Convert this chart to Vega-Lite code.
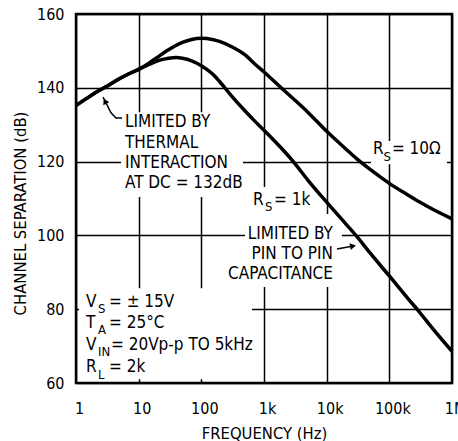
{
  "$schema": "https://vega.github.io/schema/vega-lite/v6.json",
  "width": 376,
  "height": 369,
  "autosize": {"type": "none"},
  "padding": {"left": 76, "top": 14, "right": 6, "bottom": 58},
  "background": "white",
  "config": {
    "font": "DejaVu Sans Condensed, DejaVu Sans, sans-serif",
    "view": {"stroke": "black", "strokeWidth": 2.5},
    "axis": {
      "domain": false,
      "ticks": false,
      "tickSize": 0,
      "grid": true,
      "gridColor": "black",
      "gridWidth": 1.5,
      "gridOpacity": 1,
      "labelColor": "black",
      "labelFontSize": 16,
      "labelFont": "DejaVu Sans Condensed, DejaVu Sans, sans-serif",
      "titleFont": "DejaVu Sans Condensed, DejaVu Sans, sans-serif",
      "titleFontSize": 16.5,
      "titleFontWeight": "normal",
      "titleColor": "black"
    }
  },
  "datasets": {
    "curves": [
      {"series": "Rs=10", "f": 1, "db": 135.2},
      {"series": "Rs=10", "f": 1.5, "db": 137.2},
      {"series": "Rs=10", "f": 2, "db": 138.6},
      {"series": "Rs=10", "f": 3, "db": 140.3},
      {"series": "Rs=10", "f": 5, "db": 142.5},
      {"series": "Rs=10", "f": 7, "db": 143.8},
      {"series": "Rs=10", "f": 10, "db": 145.0},
      {"series": "Rs=10", "f": 15, "db": 146.8},
      {"series": "Rs=10", "f": 20, "db": 148.3},
      {"series": "Rs=10", "f": 30, "db": 150.3},
      {"series": "Rs=10", "f": 50, "db": 152.3},
      {"series": "Rs=10", "f": 70, "db": 153.1},
      {"series": "Rs=10", "f": 100, "db": 153.4},
      {"series": "Rs=10", "f": 150, "db": 153.1},
      {"series": "Rs=10", "f": 200, "db": 152.5},
      {"series": "Rs=10", "f": 300, "db": 151.2},
      {"series": "Rs=10", "f": 500, "db": 148.9},
      {"series": "Rs=10", "f": 700, "db": 146.6},
      {"series": "Rs=10", "f": 1000, "db": 144.3},
      {"series": "Rs=10", "f": 2000, "db": 139.6},
      {"series": "Rs=10", "f": 3000, "db": 136.9},
      {"series": "Rs=10", "f": 5000, "db": 133.4},
      {"series": "Rs=10", "f": 10000, "db": 128.2},
      {"series": "Rs=10", "f": 20000, "db": 123.5},
      {"series": "Rs=10", "f": 30000, "db": 120.8},
      {"series": "Rs=10", "f": 50000, "db": 117.8},
      {"series": "Rs=10", "f": 100000, "db": 114.1},
      {"series": "Rs=10", "f": 200000, "db": 110.9},
      {"series": "Rs=10", "f": 300000, "db": 109.1},
      {"series": "Rs=10", "f": 500000, "db": 107.0},
      {"series": "Rs=10", "f": 1000000, "db": 104.5},
      {"series": "Rs=1k", "f": 1, "db": 135.2},
      {"series": "Rs=1k", "f": 1.5, "db": 137.2},
      {"series": "Rs=1k", "f": 2, "db": 138.6},
      {"series": "Rs=1k", "f": 3, "db": 140.3},
      {"series": "Rs=1k", "f": 5, "db": 142.5},
      {"series": "Rs=1k", "f": 7, "db": 143.8},
      {"series": "Rs=1k", "f": 10, "db": 145.0},
      {"series": "Rs=1k", "f": 15, "db": 146.4},
      {"series": "Rs=1k", "f": 20, "db": 147.3},
      {"series": "Rs=1k", "f": 30, "db": 148.0},
      {"series": "Rs=1k", "f": 40, "db": 148.2},
      {"series": "Rs=1k", "f": 50, "db": 148.0},
      {"series": "Rs=1k", "f": 70, "db": 147.3},
      {"series": "Rs=1k", "f": 100, "db": 146.0},
      {"series": "Rs=1k", "f": 150, "db": 143.8},
      {"series": "Rs=1k", "f": 200, "db": 141.5},
      {"series": "Rs=1k", "f": 300, "db": 137.9},
      {"series": "Rs=1k", "f": 500, "db": 133.7},
      {"series": "Rs=1k", "f": 700, "db": 131.1},
      {"series": "Rs=1k", "f": 1000, "db": 128.5},
      {"series": "Rs=1k", "f": 2000, "db": 123.2},
      {"series": "Rs=1k", "f": 3000, "db": 119.8},
      {"series": "Rs=1k", "f": 5000, "db": 115.0},
      {"series": "Rs=1k", "f": 10000, "db": 109.0},
      {"series": "Rs=1k", "f": 20000, "db": 103.2},
      {"series": "Rs=1k", "f": 30000, "db": 99.8},
      {"series": "Rs=1k", "f": 50000, "db": 95.1},
      {"series": "Rs=1k", "f": 100000, "db": 89.0},
      {"series": "Rs=1k", "f": 200000, "db": 82.8},
      {"series": "Rs=1k", "f": 300000, "db": 79.3},
      {"series": "Rs=1k", "f": 500000, "db": 74.6},
      {"series": "Rs=1k", "f": 1000000, "db": 68.6}
    ],
    "masks": [
      {"f": 1.12, "f2": 643, "db": 61, "db2": 85.7},
      {"f": 5.23, "f2": 462, "db": 110.4, "db2": 133.4},
      {"f": 50900, "f2": 832000, "db": 119.3, "db2": 125.6},
      {"f": 597, "f2": 6510, "db": 104.7, "db2": 113.1},
      {"f": 497, "f2": 17500, "db": 86.0, "db2": 105.8}
    ],
    "leaders": [
      {"seg": "thermal", "f": 2.7, "db": 137.5},
      {"seg": "thermal", "f": 3.62, "db": 133.2},
      {"seg": "thermal", "f": 4.35, "db": 131.8},
      {"seg": "thermal", "f": 5.42, "db": 131.8},
      {"seg": "pin", "f": 14600, "db": 96.3},
      {"seg": "pin", "f": 28000, "db": 97.2}
    ],
    "textLeft": [
      {"f": 6.05, "db": 130.7, "text": "LIMITED BY"},
      {"f": 6.05, "db": 125.0, "text": "THERMAL"},
      {"f": 6.05, "db": 119.6, "text": "INTERACTION"},
      {"f": 6.05, "db": 114.2, "text": "AT DC = 132dB"},
      {"f": 54800, "db": 123.4, "text": "R"},
      {"f": 110000, "db": 123.4, "text": "= 10Ω"},
      {"f": 667, "db": 109.6, "text": "R"},
      {"f": 1443, "db": 109.6, "text": "= 1k"},
      {"f": 1.444, "db": 82.0, "text": "V"},
      {"f": 3.363, "db": 82.0, "text": "= ± 15V"},
      {"f": 1.444, "db": 76.3, "text": "T"},
      {"f": 3.363, "db": 76.3, "text": "= 25°C"},
      {"f": 1.444, "db": 70.3, "text": "V"},
      {"f": 3.62, "db": 70.3, "text": "= 20Vp-p TO 5kHz"},
      {"f": 1.444, "db": 64.3, "text": "R"},
      {"f": 3.363, "db": 64.3, "text": "= 2k"}
    ],
    "textRight": [
      {"f": 12600, "db": 100.4, "text": "LIMITED BY"},
      {"f": 12600, "db": 95.0, "text": "PIN TO PIN"},
      {"f": 12600, "db": 89.5, "text": "CAPACITANCE"}
    ],
    "subs": [
      {"f": 80700, "db": 121.2, "text": "S"},
      {"f": 1037, "db": 107.7, "text": "S"},
      {"f": 2.244, "db": 80.0, "text": "S"},
      {"f": 2.244, "db": 74.3, "text": "A"},
      {"f": 2.244, "db": 68.3, "text": "IN"},
      {"f": 2.244, "db": 62.3, "text": "L"}
    ]
  },
  "encoding": {
    "x": {
      "field": "f",
      "type": "quantitative",
      "title": "FREQUENCY (Hz)",
      "scale": {"type": "log", "domain": [1, 1000000]},
      "axis": {
        "values": [1, 10, 100, 1000, 10000, 100000, 1000000],
        "labelExpr": "datum.value >= 1000000 ? '1M' : datum.value >= 1000 ? format(datum.value / 1000, 'd') + 'k' : format(datum.value, 'd')",
        "labelBaseline": "middle",
        "labelPadding": 25,
        "labelOffset": 3,
        "labelFlush": false,
        "labelOverlap": false,
        "titleY": 50,
        "titleBaseline": "middle"
      }
    },
    "y": {
      "field": "db",
      "type": "quantitative",
      "title": "CHANNEL SEPARATION (dB)",
      "scale": {"domain": [60, 160]},
      "axis": {
        "values": [60, 80, 100, 120, 140, 160],
        "labelBaseline": "middle",
        "labelPadding": 12,
        "labelFlush": false,
        "titleX": -56,
        "titleY": 199,
        "titleAngle": -90,
        "titleAlign": "center",
        "titleBaseline": "middle"
      }
    }
  },
  "layer": [
    {
      "data": {"name": "masks"},
      "mark": {"type": "rect", "color": "white", "strokeWidth": 0},
      "encoding": {"x2": {"field": "f2"}, "y2": {"field": "db2"}}
    },
    {
      "data": {"name": "curves"},
      "mark": {"type": "line", "interpolate": "monotone", "color": "black", "strokeWidth": 3.5},
      "encoding": {"detail": {"field": "series"}}
    },
    {
      "data": {"name": "leaders"},
      "mark": {"type": "line", "color": "black", "strokeWidth": 1.5},
      "encoding": {"detail": {"field": "seg"}}
    },
    {
      "data": {"values": [{"f": 2.9, "db": 136.4}]},
      "mark": {"type": "point", "shape": "triangle-up", "filled": true, "color": "black", "opacity": 1, "size": 45, "angle": -27},
      "encoding": {}
    },
    {
      "data": {"values": [{"f": 26300, "db": 97.1}]},
      "mark": {"type": "point", "shape": "triangle-up", "filled": true, "color": "black", "opacity": 1, "size": 45, "angle": 79},
      "encoding": {}
    },
    {
      "data": {"name": "textLeft"},
      "mark": {"type": "text", "align": "left", "baseline": "middle", "fontSize": 17, "color": "black"},
      "encoding": {"text": {"field": "text"}}
    },
    {
      "data": {"name": "textRight"},
      "mark": {"type": "text", "align": "right", "baseline": "middle", "fontSize": 17, "color": "black"},
      "encoding": {"text": {"field": "text"}}
    },
    {
      "data": {"name": "subs"},
      "mark": {"type": "text", "align": "left", "baseline": "middle", "fontSize": 13, "color": "black"},
      "encoding": {"text": {"field": "text"}}
    }
  ]
}
